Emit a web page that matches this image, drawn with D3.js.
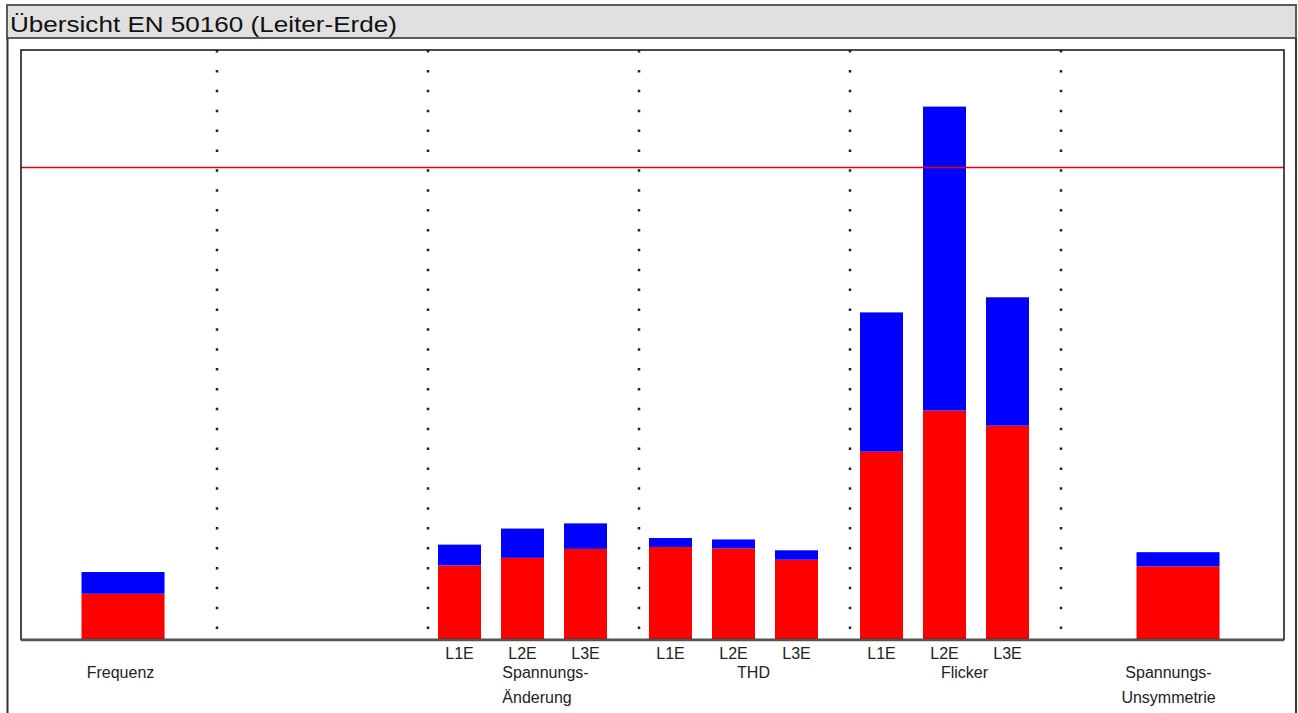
<!DOCTYPE html>
<html lang="de">
<head>
<meta charset="utf-8">
<title>Übersicht EN 50160 (Leiter-Erde)</title>
<script src="https://cdn.jsdelivr.net/npm/d3@7/dist/d3.min.js"></script>
<style>
  html, body { margin: 0; padding: 0; background: #fff; }
  svg { display: block; font-family: "Liberation Sans", Arial, Helvetica, sans-serif; }
</style>
</head>
<body>
<svg id="chart" width="1298" height="713"></svg>
<script>
// Kategorien (Gruppen) der Übersicht; die zweite Gruppe bleibt ohne Messwert
const groups = ["Frequenz", "Frei", "Spannungsänderung", "THD", "Flicker", "Unsymmetrie"];
const groupLabels = [["Frequenz"], [], ["Spannungs-", "Änderung"], ["THD"], ["Flicker"], ["Spannungs-", "Unsymmetrie"]];
const phases = ["L1E", "L2E", "L3E"];

// Balken: Gruppe, Phase ("" = Einzelbalken), unterer (rot) und oberer (blau) Anteil in % des Grenzwerts
const barGroup = ["Frequenz",
  "Spannungsänderung", "Spannungsänderung", "Spannungsänderung",
  "THD", "THD", "THD",
  "Flicker", "Flicker", "Flicker",
  "Unsymmetrie"];
const barPhase = ["", "L1E", "L2E", "L3E", "L1E", "L2E", "L3E", "L1E", "L2E", "L3E", ""];
const redValues  = [9.7, 15.7, 17.3, 19.2, 19.6, 19.3, 16.9, 39.8, 48.5, 45.3, 15.5];
const blueValues = [4.6, 4.4, 6.2, 5.4, 1.9, 1.9, 2.0, 29.5, 64.4, 27.2, 3.0];

// Grenzwert (100 %) und Skalenmaximum
const limitValue = 100;
const yMax = 125;

const svg = d3.select("#chart");

// Rahmen des Berichtsfensters mit Titelleiste
svg.append("rect")
  .attr("x", 7).attr("y", 5).attr("width", 1289).attr("height", 33)
  .attr("fill", "#e0e0e0").attr("stroke", "#5a5a5a").attr("stroke-width", 2);
svg.append("line").attr("x1", 7.5).attr("x2", 7.5).attr("y1", 38).attr("y2", 713)
  .attr("stroke", "#333").attr("stroke-width", 2);
svg.append("line").attr("x1", 1296).attr("x2", 1296).attr("y1", 38).attr("y2", 713)
  .attr("stroke", "#333").attr("stroke-width", 2);
svg.append("text")
  .attr("x", 10).attr("y", 32)
  .attr("font-size", 22)
  .attr("textLength", 387).attr("lengthAdjust", "spacingAndGlyphs")
  .attr("fill", "#111")
  .text("Übersicht EN 50160 (Leiter-Erde)");

// Diagrammbereich
const plot = { left: 21, right: 1284, top: 50, bottom: 639.5 };

const xGroup = d3.scaleBand().domain(groups).range([6, 1272]);
const xPhase = d3.scaleBand().domain(phases).range([0, 189])
  .paddingInner(20 / 63).paddingOuter(10 / 63);
const xSingle = d3.scaleBand().domain([""]).range([0, xGroup.step()])
  .paddingOuter(0.771).align(0.59);
const y = d3.scaleLinear().domain([0, yMax]).range([plot.bottom, plot.top - 0.5]);

const rows = barGroup.map((g, i) => ({ group: g, phase: barPhase[i], red: redValues[i], blue: blueValues[i] }));
const stacked = d3.stack().keys(["red", "blue"])(rows);
const colors = { red: "#ff0000", blue: "#0000ff" };

function barX(d) {
  return xGroup(d.group) + (d.phase ? xPhase(d.phase) : xSingle(""));
}
function barW(d) {
  return d.phase ? xPhase.bandwidth() : xSingle.bandwidth();
}

svg.append("g").selectAll("g")
  .data(stacked)
  .join("g")
  .attr("fill", s => colors[s.key])
  .selectAll("rect")
  .data(s => s)
  .join("rect")
  .attr("x", d => barX(d.data))
  .attr("width", d => barW(d.data))
  .attr("y", d => y(d[1]))
  .attr("height", d => y(d[0]) - y(d[1]));

// Gepunktete Trennlinien zwischen den Gruppen
svg.append("g").selectAll("line")
  .data(groups.slice(1))
  .join("line")
  .attr("x1", g => xGroup(g)).attr("x2", g => xGroup(g))
  .attr("y1", plot.top).attr("y2", plot.bottom)
  .attr("stroke", "#222").attr("stroke-width", 2.5)
  .attr("stroke-dasharray", "2.5 17.38");

// Grenzwertlinie
svg.append("line")
  .attr("x1", plot.left).attr("x2", plot.right)
  .attr("y1", y(limitValue)).attr("y2", y(limitValue))
  .attr("stroke", "#e8000b").attr("stroke-width", 1.5);

// Rahmen des Diagramms
svg.append("rect")
  .attr("x", plot.left).attr("y", plot.top)
  .attr("width", plot.right - plot.left).attr("height", plot.bottom - plot.top)
  .attr("fill", "none").attr("stroke", "#111").attr("stroke-width", 1.5);
svg.append("line")
  .attr("x1", plot.left).attr("x2", plot.right)
  .attr("y1", plot.bottom + 0.5).attr("y2", plot.bottom + 0.5)
  .attr("stroke", "#555").attr("stroke-width", 2.5);

// Phasenbeschriftungen
const phaseRows = rows.filter(d => d.phase);
svg.append("g").selectAll("text")
  .data(phaseRows)
  .join("text")
  .attr("x", d => barX(d) + barW(d) / 2)
  .attr("y", 658.5)
  .attr("text-anchor", "middle")
  .attr("font-size", 16)
  .attr("fill", "#222")
  .text(d => d.phase);

// Gruppenbeschriftungen (ggf. zweizeilig)
const labelShift = { "Spannungsänderung": 12, "Unsymmetrie": 2 };
const labelAnchor = { "Spannungsänderung": "start" };
const gl = svg.append("g").selectAll("text")
  .data(groups.map((g, i) => ({ group: g, lines: groupLabels[i] })))
  .join("text")
  .attr("font-size", 16)
  .attr("fill", "#222")
  .attr("text-anchor", d => labelAnchor[d.group] || "middle");

gl.each(function (d) {
  const cx = xGroup(d.group) + xGroup.bandwidth() / 2 + (labelShift[d.group] !== undefined ? labelShift[d.group] : 9);
  const t = d3.select(this);
  if (labelAnchor[d.group] === "start") {
    // Block zentrieren, Zeilen linksbündig
    t.attr("text-anchor", "middle");
    const spans = t.selectAll("tspan").data(d.lines).join("tspan")
      .attr("x", cx).attr("y", (l, i) => 678 + i * 24.5).text(l => l);
    const widths = spans.nodes().map(n => n.getComputedTextLength());
    const left = cx - d3.max(widths) / 2;
    t.attr("text-anchor", "start");
    spans.attr("x", left);
  } else {
    t.selectAll("tspan").data(d.lines).join("tspan")
      .attr("x", cx).attr("y", (l, i) => 678 + i * 24.5).text(l => l);
  }
});
</script>
</body>
</html>
